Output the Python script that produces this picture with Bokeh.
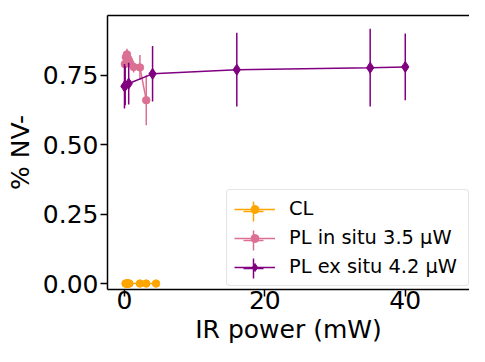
import numpy as np
from bokeh.plotting import figure
from bokeh.models import (Range1d, FixedTicker, LinearAxis, ColumnDataSource, Legend,
                          LegendItem, NumeralTickFormatter)
from bokeh.embed import file_html
from bokeh.resources import INLINE

# ---- data ----
cl_x = [0.15, 0.25, 0.35, 0.45, 0.55, 0.7, 2.2, 3.1, 4.5]
cl_y = [0.0, 0.0, 0.0, 0.0, 0.0, 0.0, 0.0, 0.0, 0.0]
cl_err = [0.0, 0.0, 0.0, 0.0, 0.0, 0.0, 0.0, 0.0, 0.0]

pl_in_x = [0.05, 0.2, 0.35, 0.5, 0.7, 1.3, 2.2, 3.1]
pl_in_y = [0.79, 0.815, 0.825, 0.81, 0.80, 0.78, 0.778, 0.66]
pl_in_err = [0.02, 0.02, 0.02, 0.02, 0.02, 0.02, 0.045, 0.09]

pl_ex_x = [0.0, 0.1, 0.6, 4.0, 16.0, 35.0, 40.0]
pl_ex_y = [0.71, 0.712, 0.72, 0.755, 0.77, 0.777, 0.78]
pl_ex_err = [0.08, 0.07, 0.075, 0.1, 0.133, 0.14, 0.12]

x_ticks = [0, 20, 40]
y_ticks = [0.0, 0.25, 0.5, 0.75]

series = [
    ("CL", cl_x, cl_y, cl_err, "#FFA500", "circle", 7.5),
    ("PL in situ 3.5 \u00b5W", pl_in_x, pl_in_y, pl_in_err, "#DB7093", "circle", 7.5),
    ("PL ex situ 4.2 \u00b5W", pl_ex_x, pl_ex_y, pl_ex_err, "#800080", "diamond", 11),
]

FONT = "DejaVu Sans"

p = figure(width=469, height=346, output_backend="svg", toolbar_location=None,
           x_range=Range1d(-2.42, 49.15), y_range=Range1d(-0.0214, 0.965),
           min_border_left=107, min_border_right=0, min_border_top=15, min_border_bottom=54)
p.grid.visible = False
p.outline_line_color = None
p.outline_line_alpha = 0
p.background_fill_color = "white"

for ax in (p.xaxis[0], p.yaxis[0]):
    ax.axis_line_width = 1.5
    ax.major_tick_line_width = 1.5
    ax.major_tick_out = 7
    ax.major_tick_in = 0
    ax.minor_tick_line_color = None
    ax.major_label_text_font = FONT
    ax.major_label_text_font_size = "25px"
    ax.major_label_text_color = "black"
    ax.axis_label_text_font = FONT
    ax.axis_label_text_font_size = "25px"
    ax.axis_label_text_font_style = "normal"
    ax.axis_label_text_color = "black"

p.xaxis[0].ticker = FixedTicker(ticks=x_ticks)
p.yaxis[0].ticker = FixedTicker(ticks=y_ticks)
p.yaxis[0].formatter = NumeralTickFormatter(format="0.00")
p.xaxis[0].axis_label = "IR power (mW)"
p.yaxis[0].axis_label = "% NV-"
p.xaxis[0].major_label_standoff = -6
p.xaxis[0].axis_label_standoff = 3
p.yaxis[0].major_label_standoff = 2
p.yaxis[0].axis_label_standoff = 5

top = LinearAxis(ticker=FixedTicker(ticks=[]), major_label_text_font_size="0px",
                 axis_line_width=1.5, major_tick_line_color=None, minor_tick_line_color=None)
p.add_layout(top, "above")

items = []
bar_renderers = []
for label, xs, ys, es, color, marker, size in series:
    xa = np.array(xs)
    ya = np.array(ys)
    ea = np.array(es)
    src = ColumnDataSource(dict(x=xa, y=ya, lo=ya - ea, hi=ya + ea))
    lr = p.line("x", "y", source=src, line_color=color, line_width=1.5)
    p.segment(x0="x", y0="lo", x1="x", y1="hi", source=src, line_color=color, line_width=1.5)
    # legend-only error-bar handle (nothing drawn in the plot area)
    handle_src = ColumnDataSource(dict(x=[np.nan], y=[np.nan]))
    cr = p.scatter("x", "y", source=handle_src, marker="cross", line_color=color,
                   line_width=1.5)
    mr = p.scatter("x", "y", source=src, marker=marker, size=size, fill_color=color,
                   line_color=color, line_width=1)
    items.append(LegendItem(label=label, renderers=[lr, mr]))
    bar_renderers.append(cr)

legend = Legend(items=items, location=(119, 3), glyph_width=41, glyph_height=20,
                label_standoff=14, padding=7, spacing=6, margin=0, label_width=172,
                label_text_font=FONT, label_text_font_size="19.4px", label_text_color="black",
                border_line_color="#cccccc", border_line_width=1,
                background_fill_alpha=0.8, border_radius=4)
p.add_layout(legend)

# one small overlay legend per row, drawing only the error-bar cross of each handle
row_offsets = [53, 24.5, -4]
for cr, yoff in zip(bar_renderers, row_offsets):
    bar_legend = Legend(items=[LegendItem(label=" ", renderers=[cr])], location=(121, yoff),
                        glyph_width=50, glyph_height=50, label_standoff=0, padding=0,
                        spacing=0, margin=0, label_text_font_size="1px",
                        border_line_color=None, background_fill_alpha=0)
    p.add_layout(bar_legend)

open("out.html", "w").write(file_html(p, INLINE))
